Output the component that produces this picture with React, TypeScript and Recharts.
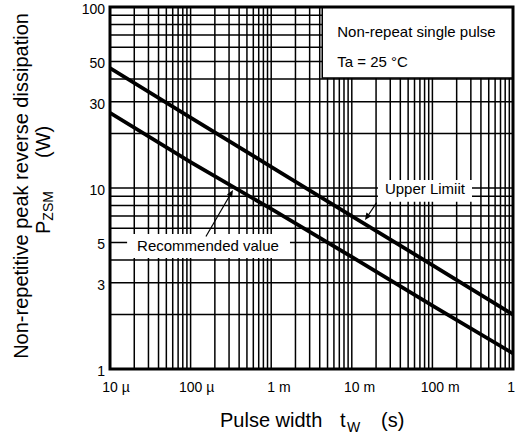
import React from 'react';
import {
  LineChart,
  Line,
  XAxis,
  YAxis,
  CartesianGrid,
  ReferenceArea,
  ReferenceLine,
  Label,
} from 'recharts';

const FONT = '"Liberation Sans", Arial, Helvetica, sans-serif';

// pulse width tW (s) and PZSM (W)
const pulseWidths = [1e-5, 1e-4, 1e-3, 1e-2, 1e-1, 1];
const upperLimit = [46, 24.5, 13.1, 7.0, 3.75, 2.0];
const recommended = [26, 13.9, 7.66, 4.16, 2.24, 1.22];

const xTickValues = [1e-5, 1e-4, 1e-3, 1e-2, 1e-1, 1];
const xTickLabels = ['10 µ', '100 µ', '1 m', '10 m', '100 m', '1'];
const yTickValues = [1, 3, 5, 10, 30, 50, 100];
const yTickLabels = ['1', '3', '5', '10', '30', '50', '100'];

// log paper grid
const xGridValues = [
  1e-5, 2e-5, 3e-5, 4e-5, 5e-5, 6e-5, 7e-5, 8e-5, 9e-5,
  1e-4, 2e-4, 3e-4, 4e-4, 5e-4, 6e-4, 7e-4, 8e-4, 9e-4,
  1e-3, 2e-3, 3e-3, 4e-3, 5e-3, 6e-3, 7e-3, 8e-3, 9e-3,
  1e-2, 2e-2, 3e-2, 4e-2, 5e-2, 6e-2, 7e-2, 8e-2, 9e-2,
  0.1, 0.2, 0.3, 0.4, 0.5, 0.6, 0.7, 0.8, 0.9,
  1,
];
const yGridValues = [1, 2, 3, 4, 5, 6, 7, 8, 9, 10, 20, 30, 40, 50, 60, 70, 80, 90, 100];

const data = pulseWidths.map((t, i) => ({
  t,
  upper: upperLimit[i],
  rec: recommended[i],
}));

const findIdx = (list: number[], v: number) =>
  list.findIndex((tv) => Math.abs(Math.log10(tv) - Math.log10(v)) < 1e-6);

const XTick = (props: any) => {
  const { x, y, payload } = props;
  const i = findIdx(xTickValues, payload.value);
  if (i < 0) return null;
  const label = xTickLabels[i];
  const num = label.split(' ')[0];
  const numW = num.length * 7.78;
  // last label sits on the right edge, keep it inside the picture
  const left = Math.min(x - numW / 2, 515 - numW);
  return (
    <text x={left} y={y + 23} fontSize={14} fontFamily={FONT} fill="#000">
      {label}
    </text>
  );
};

const YTick = (props: any) => {
  const { x, y, payload } = props;
  const i = findIdx(yTickValues, payload.value);
  if (i < 0) return null;
  return (
    <text x={x} y={y + 7} textAnchor="end" fontSize={14} fontFamily={FONT} fill="#000">
      {yTickLabels[i]}
    </text>
  );
};

const XTitle = () => (
  <g fontFamily={FONT} fill="#000">
    <text x={220} y={427} fontSize={20}>Pulse width</text>
    <text x={340} y={427} fontSize={20}>t</text>
    <text x={347} y={432} fontSize={14}>W</text>
    <text x={381} y={427} fontSize={20}>(s)</text>
  </g>
);

const YTitle = () => (
  <g fontFamily={FONT} fill="#000">
    <text transform="translate(28,186) rotate(-90)" textAnchor="middle" fontSize={20}>
      Non-repetitive peak reverse dissipation
    </text>
    <text transform="translate(50,234) rotate(-90)" fontSize={20}>
      P<tspan fontSize={14} dy={3}>ZSM</tspan>
    </text>
    <text transform="translate(50,158) rotate(-90)" fontSize={20}>(W)</text>
  </g>
);

const Arrow = (props: any) => {
  const { x1, y1, x2, y2 } = props;
  const a = Math.atan2(y2 - y1, x2 - x1);
  const len = 7;
  const w = 3;
  const bx = x2 - len * Math.cos(a);
  const by = y2 - len * Math.sin(a);
  const px = -Math.sin(a) * w;
  const py = Math.cos(a) * w;
  return (
    <g>
      <line x1={x1} y1={y1} x2={bx} y2={by} stroke="#000" strokeWidth={1.2} />
      <polygon points={`${x2},${y2} ${bx + px},${by + py} ${bx - px},${by - py}`} fill="#000" />
    </g>
  );
};

const NoteBox = (props: any) => {
  const { viewBox } = props;
  const { x, y } = viewBox;
  return (
    <g fontFamily={FONT} fill="#000" fontSize={15}>
      <text x={x + 15} y={y + 30}>Non-repeat single pulse</text>
      <text x={x + 15} y={y + 60}>Ta = 25 °C</text>
    </g>
  );
};

const UpperText = (props: any) => {
  const { x, y } = props.viewBox;
  return (
    <text x={x + 7} y={y + 14} fontFamily={FONT} fontSize={15} fill="#000">
      Upper Limiit
    </text>
  );
};

const RecText = (props: any) => {
  const { x, y } = props.viewBox;
  return (
    <text x={x + 10} y={y + 17} fontFamily={FONT} fontSize={15} fill="#000">
      Recommended value
    </text>
  );
};

export default function App() {
  return (
    <div style={{ position: 'absolute', left: 0, top: 0, background: '#fff' }}>
      <LineChart
        width={515}
        height={436}
        data={data}
        margin={{ top: 7, right: 2, bottom: 37, left: 0 }}
      >
        <CartesianGrid stroke="#000" strokeWidth={1.5} />
        <XAxis
          dataKey="t"
          type="number"
          scale="log"
          domain={[1e-5, 1]}
          ticks={xGridValues}
          interval={0}
          tick={<XTick />}
          tickLine={false}
          axisLine={false}
          tickSize={0}
          tickMargin={0}
          height={30}
          allowDataOverflow
        >
          <Label content={<XTitle />} />
        </XAxis>
        <YAxis
          type="number"
          scale="log"
          domain={[1, 100]}
          ticks={yGridValues}
          interval={0}
          tick={<YTick />}
          tickLine={false}
          axisLine={false}
          tickSize={0}
          tickMargin={5}
          width={110}
          allowDataOverflow
        >
          <Label content={<YTitle />} />
        </YAxis>

        {/* annotation boxes mask the grid */}
        <ReferenceArea
          x1={4.3e-3}
          x2={1}
          y1={40.5}
          y2={100}
          fill="#fff"
          fillOpacity={1}
          stroke="#000"
          strokeWidth={1.5}
          ifOverflow="visible"
          label={<NoteBox />}
        />
        <ReferenceArea
          x1={0.0211}
          x2={0.31}
          y1={8.4}
          y2={11.07}
          fill="#fff"
          fillOpacity={1}
          stroke="none"
          label={<UpperText />}
        />
        <ReferenceArea
          x1={1.63e-5}
          x2={1.71e-3}
          y1={4.1}
          y2={5.57}
          fill="#fff"
          fillOpacity={1}
          stroke="none"
          label={<RecText />}
        />

        <ReferenceLine
          segment={[{ x: 0.0203, y: 8.3 }, { x: 0.0146, y: 6.65 }]}
          shape={Arrow}
          ifOverflow="visible"
        />
        <ReferenceLine
          segment={[{ x: 1.55e-4, y: 5.4 }, { x: 3.36e-4, y: 9.75 }]}
          shape={Arrow}
          ifOverflow="visible"
        />

        <Line
          dataKey="upper"
          type="linear"
          stroke="#000"
          strokeWidth={3.8}
          dot={false}
          isAnimationActive={false}
        />
        <Line
          dataKey="rec"
          type="linear"
          stroke="#000"
          strokeWidth={3.8}
          dot={false}
          isAnimationActive={false}
        />

        {/* plot frame */}
        <ReferenceArea
          x1={1e-5}
          x2={1}
          y1={1}
          y2={100}
          fill="none"
          stroke="#000"
          strokeWidth={3}
          ifOverflow="visible"
        />
      </LineChart>
    </div>
  );
}
